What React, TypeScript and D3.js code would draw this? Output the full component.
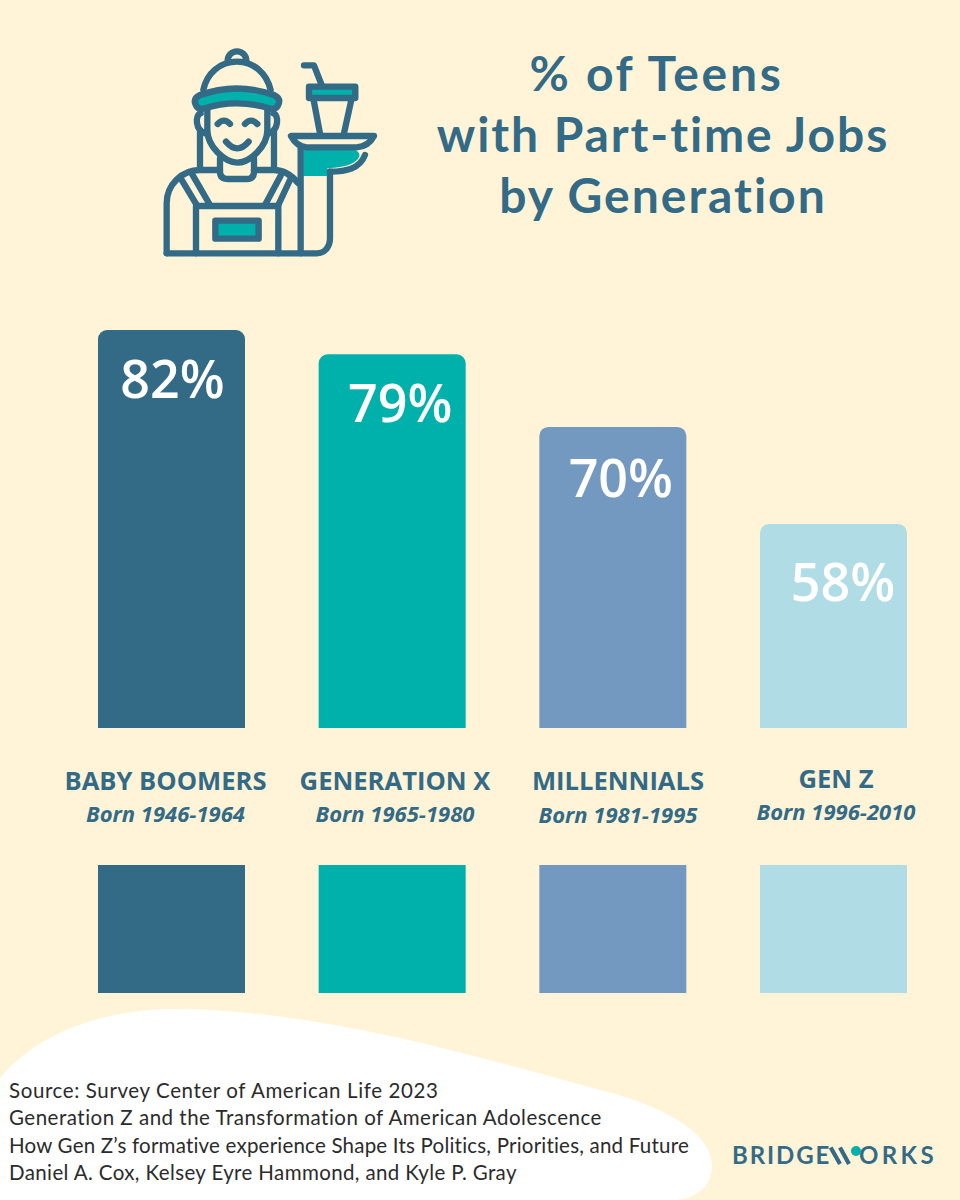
import React from "react";
import * as d3 from "d3";

const generations = ["BABY BOOMERS", "GENERATION X", "MILLENNIALS", "GEN Z"];
const birthYears = ["Born 1946-1964", "Born 1965-1980", "Born 1981-1995", "Born 1996-2010"];
const shares = [82, 79, 70, 58];
const barColors = ["#336b87", "#00b0aa", "#7499c1", "#b0dce6"];
const titleLines = ["% of Teens", "with Part-time Jobs", "by Generation"];
const sourceLines = [
  "Source: Survey Center of American Life 2023",
  "Generation Z and the Transformation of American Adolescence",
  "How Gen Z’s formative experience Shape Its Politics, Priorities, and Future",
  "Daniel A. Cox, Kelsey Eyre Hammond, and Kyle P. Gray",
];

const INK = "#336b87";
const TEAL = "#00b0aa";
const CREAM = "#fff4d7";

// the bars do not start at zero in the original, baseline sits near 33%
const x = d3.scaleBand<string>().domain(generations).range([98, 907]).paddingInner(0.3338);
const y = d3.scaleLinear().domain([32.75, 82]).range([728, 330]);

// small nudges, the labels in the original are not centered on the bars
const valueShift = [1, 8, 8, 9.5];
const valueDrop = [68, 68, 70, 77];
const nameCenter = [165.5, 395, 618, 836];
const nameY = [790, 790, 790, 788];
const bornY = [822, 822, 823, 820];
const titleCenter = [656.5, 663, 663];
const titleTracking = [2.7, 1.9, 2];
const sourceTracking = [0.61, 0.5, 0.21, 0.38];

const roundedTop = (x0: number, y0: number, w: number, y1: number, r: number) => {
  const p = d3.path();
  p.moveTo(x0, y1);
  p.lineTo(x0, y0 + r);
  p.arcTo(x0, y0, x0 + r, y0, r);
  p.lineTo(x0 + w - r, y0);
  p.arcTo(x0 + w, y0, x0 + w, y0 + r, r);
  p.lineTo(x0 + w, y1);
  p.closePath();
  return p.toString();
};

const Waiter = () => (
  <g transform="translate(150,30) scale(0.3333)" fill="none" stroke={INK} strokeWidth={19} strokeLinecap="round" strokeLinejoin="round">
    <path d="M233 92 a28 28 0 1 1 56 0" />
    <path d="M160 180 C170 130 210 95 261 95 C312 95 350 130 362 180" />
    <path d="M148 196 Q260 155 374 196 Q392 205 386 222 Q380 240 362 236 Q260 204 160 236 Q142 240 136 222 Q130 205 148 196 Z" fill={TEAL} />
    <path d="M152 250 C135 255 135 300 165 310" />
    <path d="M370 250 C387 255 387 300 357 310" />
    <path d="M172 240 V300 C172 350 225 398 262 398 C300 398 352 350 352 300 V240" />
    <path d="M203 282 Q222 262 240 282" />
    <path d="M285 282 Q303 262 322 282" />
    <path d="M228 335 Q262 375 296 335" />
    <path d="M150 305 V415" />
    <path d="M372 305 V415" />
    <path d="M210 385 V425 Q210 447 235 447 H290 Q312 447 312 425 V385" />
    <path d="M50 670 V520 C50 465 95 420 150 420 H210" />
    <path d="M312 420 H372 C400 420 425 435 445 460" />
    <path d="M50 670 H500 C525 670 540 650 540 625 V425" />
    <path d="M95 450 L140 525" />
    <path d="M125 430 L180 525" />
    <path d="M345 525 L392 437" />
    <path d="M385 525 L420 450" />
    <path d="M138 670 V528 H385 V670" />
    <rect x={196} y={572} width={130} height={54} fill={TEAL} />
    <path d="M460 360 H615 C635 368 632 385 610 398 C590 410 560 412 532 415 V438 H460 Z" fill={TEAL} stroke="none" />
    <path d="M452 670 V355" />
    <path d="M540 425 C590 425 630 415 645 375" />
    <path d="M423 318 H672 Q655 350 620 352 H470 Q440 350 423 318 Z" />
    <path d="M490 205 L510 310" />
    <path d="M605 205 L582 310" />
    <rect x={477} y={170} width={139} height={34} fill={TEAL} />
    <path d="M462 106 H492 L515 165" />
  </g>
);

export default function App() {
  return (
    <svg
      width={960}
      height={1200}
      viewBox="0 0 960 1200"
      style={{ position: "absolute", left: 0, top: 0, display: "block" }}
    >
      <rect width={960} height={1200} fill={CREAM} />
      <path
        d="M0 1078 C40 1030 110 1008 180 1009 C330 1012 470 1055 600 1090 C680 1110 712 1140 712 1165 C712 1185 700 1195 680 1200 L0 1200 Z"
        fill="#fff"
      />

      <Waiter />

      <g fontFamily="Lato, sans-serif" fontWeight={700} fontSize={48} fill={INK} textAnchor="middle">
        {titleLines.map((t, i) => (
          <text key={t} x={titleCenter[i]} y={91 + i * 61} letterSpacing={titleTracking[i]}>{t}</text>
        ))}
      </g>

      {generations.map((g, i) => {
        const bx = x(g) as number;
        const cx = bx + x.bandwidth() / 2;
        const top = y(shares[i]);
        return (
          <g key={g}>
            <path d={roundedTop(bx, top, x.bandwidth(), y.range()[0], 9)} fill={barColors[i]} />
            <text
              x={cx + valueShift[i]}
              y={top + valueDrop[i]}
              textAnchor="middle"
              fontFamily="'Open Sans', sans-serif"
              fontWeight={600}
              fontSize={52}
              fill="#fff"
            >
              {shares[i]}%
            </text>
            <text
              x={nameCenter[i]}
              y={nameY[i]}
              textAnchor="middle"
              fontFamily="'Open Sans', sans-serif"
              fontWeight={700}
              fontSize={25.6}
              fill={INK}
            >
              {g}
            </text>
            <text
              x={nameCenter[i]}
              y={bornY[i]}
              textAnchor="middle"
              fontFamily="'Open Sans', sans-serif"
              fontWeight={700}
              fontStyle="italic"
              fontSize={22}
              fill={INK}
            >
              {birthYears[i]}
            </text>
            <rect x={bx} y={865} width={x.bandwidth()} height={128} fill={barColors[i]} />
          </g>
        );
      })}

      <g fontFamily="Lato, sans-serif" fontSize={20.5} fill="#2b2b2b">
        {sourceLines.map((t, i) => (
          <text key={t} x={9} y={1098 + i * 27.3} letterSpacing={sourceTracking[i]}>{t}</text>
        ))}
      </g>

      <g fontFamily="Lato, sans-serif" fontWeight={700} fontSize={24} fill={INK}>
        <text x={732} y={1164} letterSpacing={1.9}>BRIDGE</text>
        <text x={859} y={1164} letterSpacing={3.4}>ORKS</text>
      </g>
      <path d="M830.7 1147.5 L840 1164 M840 1147.5 L849 1164" stroke={INK} strokeWidth={4.2} fill="none" />
      <circle cx={856} cy={1151} r={5} fill={TEAL} />
    </svg>
  );
}
